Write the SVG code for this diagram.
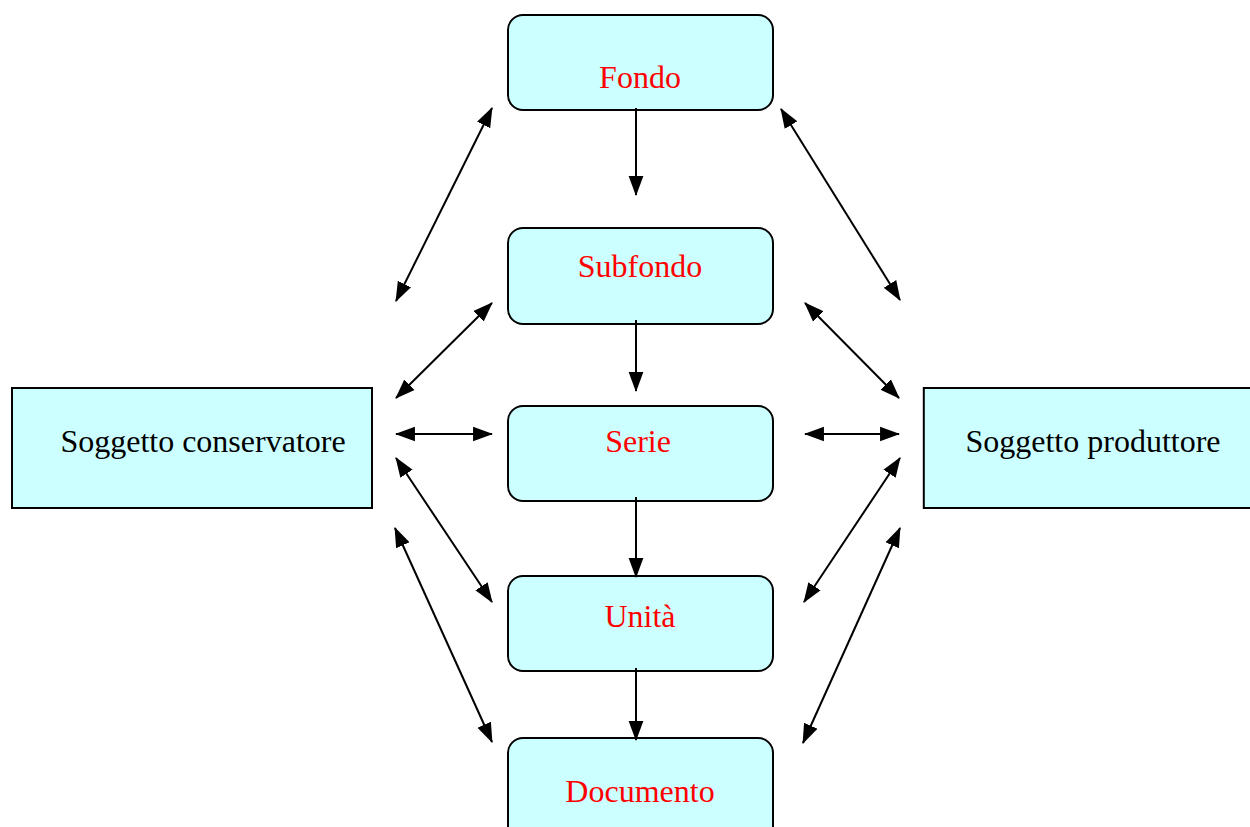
<svg xmlns="http://www.w3.org/2000/svg" width="1250" height="827" viewBox="0 0 1250 827">
<style>
.box{fill:#CCFFFF;stroke:#000;stroke-width:2}
.lbl{font-family:"Liberation Serif","Times New Roman",serif;font-size:32px;text-anchor:middle}
.red{fill:#FF0000}
.blk{fill:#000}
.c{stroke:#000;stroke-width:2;fill:none}
</style>
<defs>
<marker id="ah" markerUnits="userSpaceOnUse" markerWidth="20" markerHeight="16" refX="18" refY="7" orient="auto-start-reverse" viewBox="0 0 19 14">
<path d="M0,0 L19,7 L0,14 Z" fill="#000"/>
</marker>
</defs>
<rect width="1250" height="827" fill="#fff"/>
<g id="fondo"><rect class="box" x="508" y="15" width="265" height="95" rx="15"/><text class="lbl red" x="640" y="88">Fondo</text></g>
<g id="subfondo"><rect class="box" x="508" y="228" width="265" height="96" rx="15"/><text class="lbl red" x="640" y="277">Subfondo</text></g>
<g id="serie"><rect class="box" x="508" y="406" width="265" height="95" rx="15"/><text class="lbl red" x="638" y="452">Serie</text></g>
<g id="unita"><rect class="box" x="508" y="576" width="265" height="95" rx="15"/><text class="lbl red" x="640" y="627">Unità</text></g>
<g id="documento"><rect class="box" x="508" y="738" width="265" height="110" rx="15"/><text class="lbl red" x="640" y="802">Documento</text></g>
<g id="conservatore"><rect class="box" x="12" y="388" width="360" height="120"/><text class="lbl blk" x="203" y="452">Soggetto conservatore</text></g>
<g id="produttore"><rect class="box" x="923.8" y="388" width="330" height="120"/><text class="lbl blk" x="1093" y="452">Soggetto produttore</text></g>
<g id="connectors">
<line class="c" x1="636" y1="108" x2="636" y2="195" marker-end="url(#ah)"/>
<line class="c" x1="636" y1="320" x2="636" y2="391" marker-end="url(#ah)"/>
<line class="c" x1="636" y1="497" x2="636" y2="577" marker-end="url(#ah)"/>
<line class="c" x1="636" y1="668" x2="636" y2="740" marker-end="url(#ah)"/>
<line class="c" x1="492" y1="108" x2="396" y2="301" marker-start="url(#ah)" marker-end="url(#ah)"/>
<line class="c" x1="492" y1="303" x2="396" y2="398" marker-start="url(#ah)" marker-end="url(#ah)"/>
<line class="c" x1="396" y1="434" x2="492" y2="434" marker-start="url(#ah)" marker-end="url(#ah)"/>
<line class="c" x1="396" y1="458" x2="492" y2="602" marker-start="url(#ah)" marker-end="url(#ah)"/>
<line class="c" x1="395" y1="528" x2="492" y2="742" marker-start="url(#ah)" marker-end="url(#ah)"/>
<line class="c" x1="781" y1="109" x2="900" y2="300" marker-start="url(#ah)" marker-end="url(#ah)"/>
<line class="c" x1="805" y1="303" x2="899" y2="398" marker-start="url(#ah)" marker-end="url(#ah)"/>
<line class="c" x1="805" y1="434" x2="899" y2="434" marker-start="url(#ah)" marker-end="url(#ah)"/>
<line class="c" x1="900" y1="458" x2="804" y2="602" marker-start="url(#ah)" marker-end="url(#ah)"/>
<line class="c" x1="900" y1="528" x2="803" y2="743" marker-start="url(#ah)" marker-end="url(#ah)"/>
</g>
</svg>
